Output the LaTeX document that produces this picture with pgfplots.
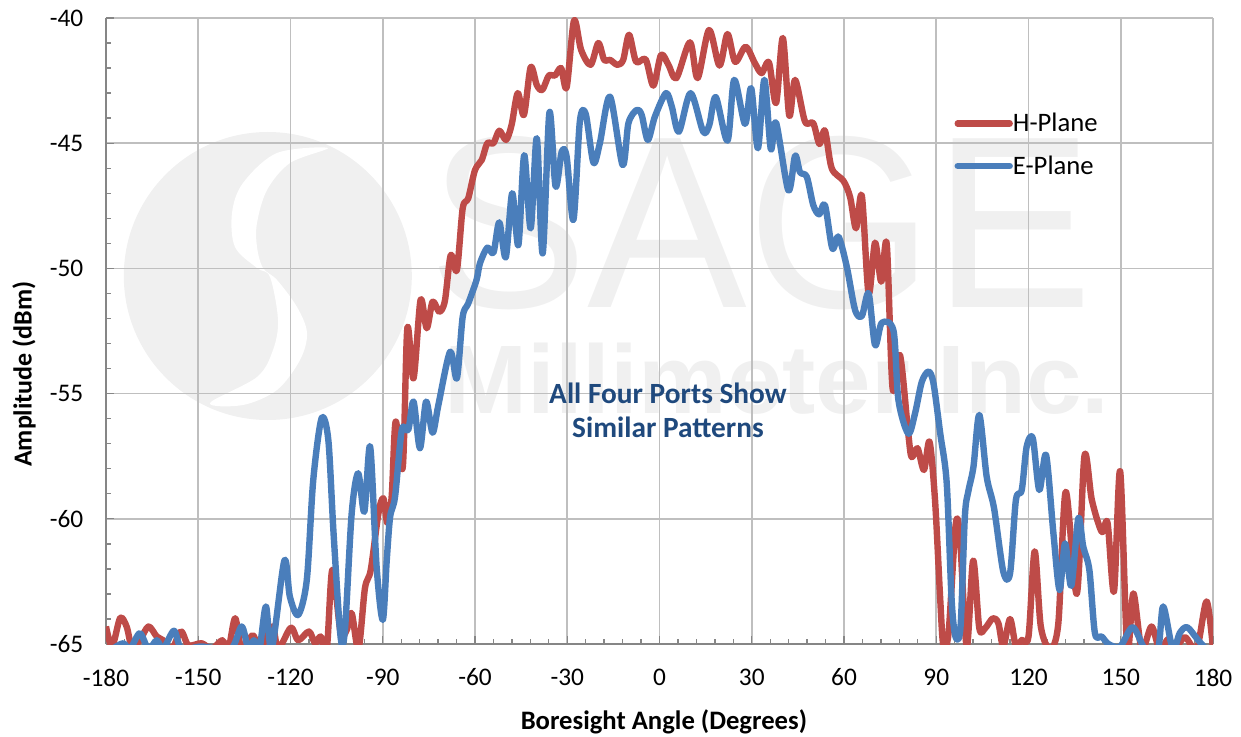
\documentclass[border=0pt]{standalone}
\usepackage{pgfplots}
\usepackage{pgfplotstable}
\usepackage{fontspec}
\pgfplotsset{compat=1.18}
\setmainfont{Carlito}
\newfontfamily\wm{Liberation Sans}
\definecolor{hred}{HTML}{BE4B48}
\definecolor{eblue}{HTML}{4A7EBB}
\definecolor{anno}{HTML}{1F497D}
\definecolor{wmk}{HTML}{F0F0F0}
\definecolor{gridc}{HTML}{BFBFBF}
\definecolor{axc}{HTML}{868686}

\pgfplotstableread{
x y
-180 -64.3
-178 -65.1
-175.4 -63.96
-173.3 -64.3
-171.6 -65.1
-169 -64.85
-166.2 -64.3
-163.5 -64.7
-161.4 -64.85
-158.6 -65.2
-155.6 -64.5
-153.2 -65.05
-148.9 -64.97
-145.6 -65.2
-142.2 -64.85
-140.2 -65.2
-138 -63.97
-135.9 -65.2
-132.3 -64.65
-129.9 -65.2
-125.9 -64.3
-124 -65.2
-119.9 -64.35
-117.5 -64.85
-114 -64.5
-112 -64.97
-110.2 -64.7
-108.2 -65.2
-106.4 -62.04
-103.7 -64.55
-101.7 -64.44
-100.1 -63.77
-97.9 -65.2
-95.8 -62.78
-93.9 -62.04
-91.4 -59.78
-89.8 -59.18
-88.5 -60.17
-87.1 -59.12
-85.8 -56.12
-83.5 -57.95
-82 -52.39
-80 -54.39
-77.7 -51.26
-75.7 -52.39
-73.8 -51.33
-71.6 -51.73
-69.8 -51.3
-67.9 -49.47
-65.9 -50.07
-64 -47.6
-62.2 -47.2
-60 -46.07
-57.8 -45.67
-56 -45.0
-54 -45.0
-52.1 -44.5
-49.9 -44.87
-48.1 -44.27
-46.1 -43.0
-44.1 -43.87
-41.9 -41.97
-39.9 -42.68
-38.1 -42.87
-36 -42.3
-34 -42.3
-32 -42.0
-30.2 -42.77
-27.8 -40.1
-25.5 -41.27
-22.4 -41.87
-19.9 -41.0
-18 -41.67
-16.1 -41.67
-13.7 -41.87
-11.8 -41.67
-9.9 -40.67
-7.6 -41.75
-4.5 -41.65
-2 -42.7
0.5 -41.47
2.9 -41.87
5.5 -42.4
9.9 -40.97
12.4 -42.4
16.1 -40.48
19.5 -41.9
22.1 -40.64
24.6 -41.75
28 -41.15
31 -41.8
33.2 -42.2
35.6 -41.78
37.9 -43.4
40.1 -40.8
42.2 -43.9
44.1 -42.47
47.3 -44.13
50 -44.2
52 -45.03
53.8 -44.5
56 -46.0
59.8 -46.5
62 -47.16
63.9 -48.4
65.8 -47.1
68 -51
70.1 -48.97
72.1 -50.53
73.9 -49.03
75.8 -54.79
78.2 -53.46
80.9 -56.6
82 -57.54
83.9 -57.18
86 -58.05
87.8 -56.92
89.6 -59.25
91.3 -63.24
92.3 -65.05
94 -64.56
96.3 -60.25
97.7 -60.72
99.9 -65.1
102 -61.67
104 -64.37
105.9 -64.37
108.4 -63.97
110.2 -64.17
111.8 -65.1
114 -64.0
115.9 -65.1
117.8 -64.84
120 -64.7
122 -61.3
124 -64.3
127 -65.2
129.7 -64.17
132.1 -58.92
135.7 -63.0
138.2 -57.49
140.6 -59.25
143.8 -60.52
145.7 -60.16
147.8 -62.9
149.8 -58.1
152.1 -65.2
154.1 -62.98
156.8 -65.2
160 -64.3
162.6 -65.2
165.5 -64.8
167.5 -65.2
170.9 -64.73
174.7 -65.2
177.9 -63.3
180 -65.2
}\hplane

\pgfplotstableread{
x y
-180 -65.3
-178 -65.2
-174.4 -64.97
-172.2 -65.2
-169 -64.57
-166.2 -65.2
-163.5 -64.85
-161.4 -65.2
-157.9 -64.47
-155.4 -65.2
-149 -65.1
-139.5 -65.2
-135.9 -64.3
-133.7 -65.2
-131.9 -64.85
-130.1 -65.2
-128 -63.5
-126.1 -65.2
-122 -61.67
-120.2 -63.11
-117.5 -63.84
-114.7 -62.44
-112.6 -58.45
-109.9 -55.99
-107.7 -56.85
-106 -60.57
-103.7 -64.73
-102.3 -64.44
-100.1 -59.78
-98 -58.18
-96 -59.72
-94.1 -57.12
-92 -61.91
-90 -64.04
-88.7 -61.65
-87.6 -59.92
-86 -59.12
-83.8 -56.45
-81.7 -56.45
-80 -55.32
-77.9 -57.18
-75.9 -55.32
-73.8 -56.56
-71.9 -55.45
-68.1 -53.33
-65.9 -54.39
-64 -51.93
-62.2 -51.4
-59.5 -50.46
-58.4 -49.8
-56 -49.17
-54 -49.37
-52.1 -48.16
-50 -49.56
-47.9 -47.0
-45.9 -49.07
-44 -45.48
-41.9 -48.4
-39.9 -44.8
-38 -49.4
-35.8 -43.78
-33.8 -46.73
-31.8 -45.34
-30.2 -45.54
-28 -48.06
-25.9 -44.13
-24 -43.83
-21.5 -45.77
-19.4 -45.0
-16.1 -43.14
-12 -45.87
-10.1 -44.2
-7.4 -43.67
-5.8 -43.87
-3.8 -44.87
-1.5 -43.94
2.1 -43.0
4 -43.54
6.3 -44.54
10.1 -43
14.2 -44.54
16.2 -44.27
18.3 -43.16
22.1 -44.9
24.3 -42.47
27.8 -44.23
29.8 -42.8
32 -45.2
34.1 -42.47
36.2 -45.24
37.9 -44.18
41.9 -46.88
44.1 -45.5
45.7 -46.16
47.9 -46.34
50 -47.47
51.9 -47.84
53.8 -47.47
56.2 -49.2
58.2 -48.73
60.9 -49.93
63.6 -51.66
65.8 -51.9
68 -51
70.1 -53.06
72.3 -52.17
76.1 -52.49
77.7 -55.26
80.9 -56.6
83.1 -55.79
85.3 -54.53
87.5 -54.12
89.1 -54.59
91.3 -56.6
93.4 -58.57
95 -63.24
96.3 -64.73
97.9 -64.3
99.3 -59.92
100.4 -58.92
102.1 -57.92
104 -55.85
106.4 -58.32
108.8 -59.58
111.8 -62.11
114 -62.18
115.9 -59.25
117.8 -58.85
119.4 -57.12
121.4 -56.79
123.5 -58.85
125.7 -57.45
128.1 -60.58
130.1 -62.84
131.9 -60.98
133.9 -62.68
136.2 -59.98
137.8 -61.11
139.8 -62.05
141.6 -64.57
143.8 -64.7
146 -65
149.8 -65.1
153.9 -64.33
157.9 -65.2
162.1 -65.2
163.8 -63.5
166.9 -65.2
169.2 -64.56
171.6 -64.33
175.2 -64.85
177.9 -65.2
180 -65.3
}\eplane

\begin{document}
\begin{tikzpicture}
\useasboundingbox (-79.5pt,-69pt) rectangle (851.25pt,483pt);
% watermark, in reference pixels
\begin{scope}[x=0.75pt,y=-0.75pt,shift={(-106,-644)}]
\fill[wmk] (267.8,276) circle (108pt);
\fill[white] plot[smooth cycle,tension=0.55] coordinates {(328,148) (277,153) (243,183) (232,213) (235,247) (257,268) (270,277) (278,320) (273,350) (257,377) (210,403) (243,405) (277,390) (300,360) (307,333) (297,307) (277,280) (263,268) (257,247) (257,223) (267,190) (290,163)};
\node[wmk,anchor=base west,inner sep=0pt,xscale=0.976] at (428,308) {\wm\fontsize{184}{184}\selectfont SAGE};
\node[wmk,anchor=base west,inner sep=0pt,xscale=1.025] at (444,413) {\wm\bfseries\fontsize{73}{73}\selectfont Millimeter Inc.};
\end{scope}
\begin{axis}[
  scale only axis, width=830.25pt, height=469.5pt,
  xmin=-180, xmax=180, ymin=-65, ymax=-40,
  axis x line=bottom, axis y line=left,
  axis line style={-,axc,line width=1.2pt},
  xtick={-180,-150,...,180},
  xticklabels={-180,-150,-120,-90,-60,-30,0,30,60,90,120,150,180},
  ytick={-65,-60,-55,-50,-45,-40},
  yticklabels={-65,-60,-55,-50,-45,-40},
  minor x tick num=4, minor y tick num=4,
  tick align=inside,
  major tick length=6pt, minor tick length=4pt,
  tick style={axc,line width=1pt},
  minor tick style={axc,line width=1pt},
  grid=major,
  grid style={gridc,line width=1.2pt},
  tick label style={font=\fontsize{19}{19}\selectfont,text=black},
  yticklabel style={xshift=-13.5pt},
  xticklabel style={yshift=-15pt},
  xlabel={\textbf{Boresight Angle (Degrees)}},
  ylabel={\textbf{Amplitude (dBm)}},
  every axis x label/.style={at={(axis description cs:0.504,-0.124)},anchor=center,font=\fontsize{20}{20}\selectfont},
  every axis y label/.style={at={(axis description cs:-0.074,0.431)},anchor=center,rotate=90,font=\fontsize{19.5}{19.5}\selectfont},
  legend cell align=left,
  legend style={at={(axis description cs:0.7665,0.7975)},anchor=west,draw=none,fill=none,inner sep=0pt,outer sep=0pt,
    font=\fontsize{20}{20}\selectfont,row sep=16.5pt,
    nodes={inner sep=0pt}},
  legend image code/.code={\draw[#1,line cap=round] (0pt,0pt) -- (39pt,0pt);},
]
\addplot[hred,line width=4.8pt,smooth,tension=0.5,line join=round] table[x=x,y=y] {\hplane};
\addplot[eblue,line width=4.8pt,smooth,tension=0.5,line join=round] table[x=x,y=y] {\eplane};
\legend{H-Plane,E-Plane}
\node[anno,align=center,font=\fontsize{22}{25.5}\selectfont\bfseries] at (axis cs:2.76,-55.65) {All Four Ports Show\\Similar Patterns};
\end{axis}
\end{tikzpicture}
\end{document}
